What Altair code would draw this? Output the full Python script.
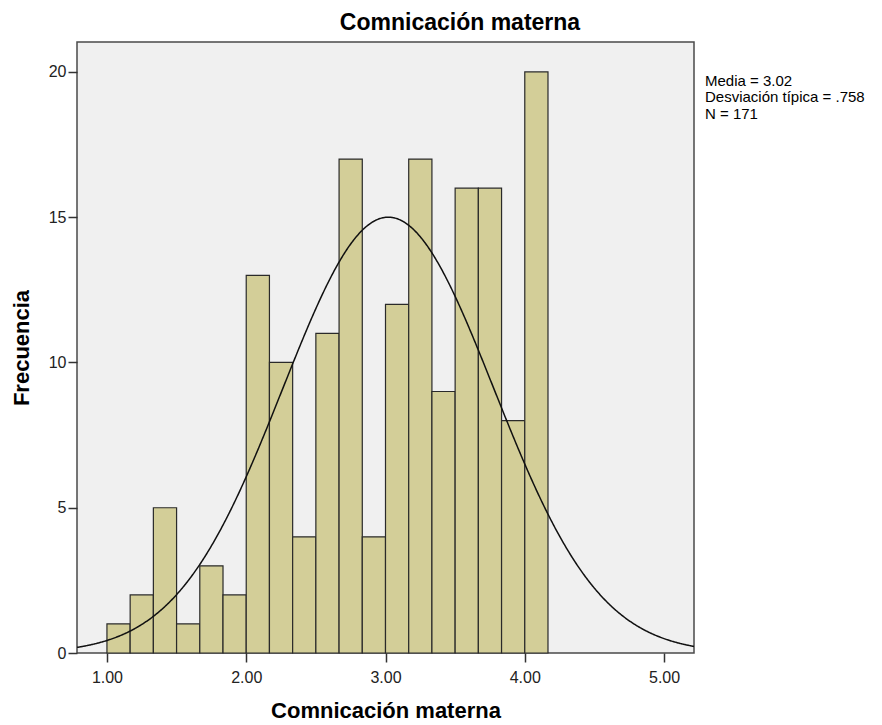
import altair as alt
import pandas as pd

# ---- data ----
bin_width = 1 / 6
bin_starts = [1 + k * bin_width for k in range(19)]
counts = [1, 2, 5, 1, 3, 2, 13, 10, 4, 11, 17, 4, 12, 17, 9, 16, 16, 8, 20]

mean = 3.02
sd = 0.758
n = 171

x_ticks = [1.0, 2.0, 3.0, 4.0, 5.0]
y_ticks = [0, 5, 10, 15, 20]
x_domain = [0.785, 5.215]
y_domain = [0, 21.03]

stats_lines = ["Media = 3.02", "Desviación típica = .758", "N = 171"]
title_text = "Comnicación materna"
x_title = "Comnicación materna"
y_title = "Frecuencia"

bars_df = pd.DataFrame({
    "start": bin_starts,
    "end": [s + bin_width for s in bin_starts],
    "count": counts,
})

FONT = "Liberation Sans"

x_scale = alt.Scale(domain=x_domain, nice=False, zero=False)
y_scale = alt.Scale(domain=y_domain, nice=False)

x_axis = alt.Axis(values=x_ticks, format=".2f", title=x_title, grid=False,
                  domain=False, tickSize=9, tickWidth=1.5, tickColor="#333",
                  labelFontSize=16, labelColor="#222", labelFont=FONT,
                  labelPadding=7, titleFont=FONT, titleFontSize=22,
                  titleFontWeight="bold", titleColor="#000", titlePadding=15)
y_axis = alt.Axis(values=y_ticks, title=y_title, grid=False, domain=False,
                  tickSize=9, tickWidth=1.5, tickColor="#333",
                  labelFontSize=16, labelColor="#222", labelFont=FONT,
                  labelPadding=2, titleFont=FONT, titleFontSize=22,
                  titleFontWeight="bold", titleColor="#000", titlePadding=15)

bars = alt.Chart(bars_df).mark_bar(
    fill="#D3CE98", stroke="#2a2a2a", strokeWidth=1.2, opacity=1
).encode(
    x=alt.X("start:Q", scale=x_scale, axis=x_axis),
    x2="end:Q",
    y=alt.Y("count:Q", scale=y_scale, axis=y_axis),
    y2=alt.datum(0),
)

curve = alt.Chart(alt.sequence(start=x_domain[0], stop=x_domain[1] + 0.005,
                               step=0.005, as_="x")).transform_calculate(
    y=f"{n} * {bin_width} / ({sd} * sqrt(2 * PI)) * exp(-0.5 * pow((datum.x - {mean}) / {sd}, 2))"
).mark_line(color="#111", strokeWidth=1.5, clip=True).encode(
    x=alt.X("x:Q", scale=x_scale),
    y=alt.Y("y:Q", scale=y_scale),
)

one_row = pd.DataFrame({"t": [0]})

stats = alt.Chart(one_row).mark_text(
    text=stats_lines, align="left", baseline="alphabetic", font=FONT,
    fontSize=15, lineHeight=16.3, color="#000"
).encode(x=alt.value(628), y=alt.value(44))

title = alt.Chart(one_row).mark_text(
    text=title_text, align="center", baseline="alphabetic", font=FONT,
    fontSize=23, fontWeight="bold", color="#000"
).encode(x=alt.value(383), y=alt.value(-12))

chart = alt.layer(bars, curve, stats, title).properties(
    width=617, height=611,
    background="white",
    autosize=alt.AutoSizeParams(type="none"),
    padding={"left": 69, "top": 34, "right": 180, "bottom": 76},
).configure_view(
    fill="#F0F0F0", stroke="#4a4a4a", strokeWidth=1.5
)

chart.save("out.html", embed_options={"renderer": "svg", "actions": False})
